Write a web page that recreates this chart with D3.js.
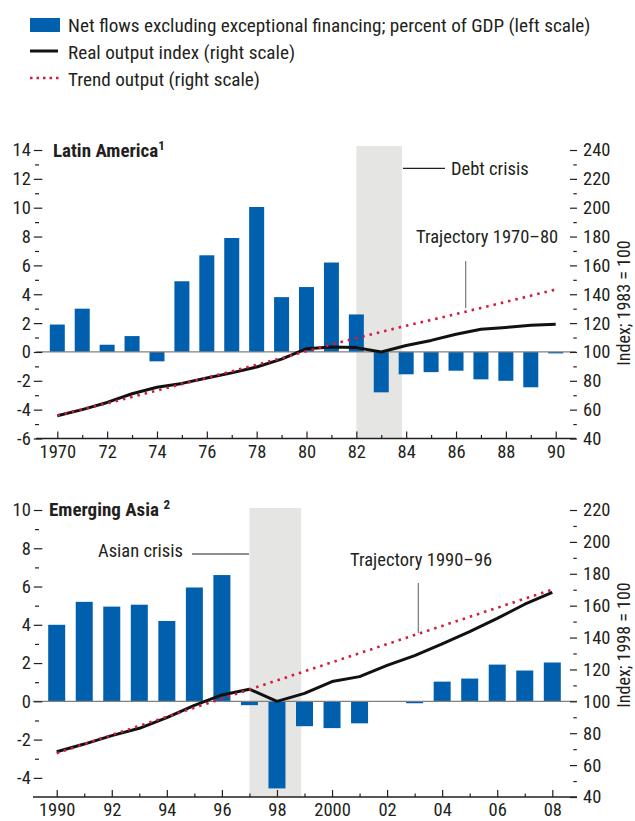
<!DOCTYPE html>
<html lang="en">
<head>
  <meta charset="UTF-8">
  <title>Net flows and output</title>
  <style>
  body { margin: 0; background: #fff; }
  svg text { font-family: "Liberation Sans Narrow", "Arial Narrow", "Roboto Condensed", "DejaVu Sans Condensed", sans-serif; fill: #231f20; }
  .tick text { font-size: 18.5px; }
  .axis .domain { display: none; }
  .axis line { stroke: #231f20; stroke-width: 1.2px; }
  </style>
</head>
<body>
<script src="https://d3js.org/d3.v7.min.js"></script>
<script>
// Latin America, 1970-90
var latYears = [1970,1971,1972,1973,1974,1975,1976,1977,1978,1979,1980,1981,1982,1983,1984,1985,1986,1987,1988,1989,1990];
var latFlows = [1.9, 3.0, 0.5, 1.1, -0.65, 4.9, 6.7, 7.9, 10.05, 3.8, 4.5, 6.2, 2.6, -2.8, -1.55, -1.4, -1.3, -1.9, -2.0, -2.45, -0.1];
var latOutput = [55.8, 60, 65, 71, 75.5, 78.2, 82, 85.5, 89.6, 95, 102.3, 103.5, 103, 100, 104.5, 108, 112.3, 115.8, 117, 118.5, 119.2];
var latTrend = [56, 60.2, 64.4, 68.8, 73.3, 77.7, 82.1, 86.6, 91.1, 95.7, 100.5, 105.1, 109.6, 113.9, 118.2, 122.2, 126.3, 130.5, 134.7, 139, 143.3];
var latXLabels = ["1970","72","74","76","78","80","82","84","86","88","90"];
var latLeftTicks = [-6,-4,-2,0,2,4,6,8,10,12,14];
var latRightTicks = [40,60,80,100,120,140,160,180,200,220,240];

// Emerging Asia, 1990-2008
var asiaYears = [1990,1991,1992,1993,1994,1995,1996,1997,1998,1999,2000,2001,2002,2003,2004,2005,2006,2007,2008];
var asiaFlows = [4.0, 5.2, 4.95, 5.05, 4.2, 5.95, 6.6, -0.2, -4.55, -1.3, -1.4, -1.15, 0, -0.1, 1.03, 1.19, 1.92, 1.61, 2.03];
var asiaOutput = [68.4, 73.2, 78.5, 83.1, 89.8, 97.5, 104, 107.6, 100, 105, 112.4, 115.5, 122.5, 128.7, 136, 143.7, 152, 160.9, 168.4];
var asiaTrend = [67.5, 73.2, 78.9, 84.6, 90.3, 96.0, 101.7, 107.4, 113.1, 118.8, 124.5, 130.2, 135.9, 141.6, 147.3, 153.0, 158.7, 164.4, 170.1];
var asiaXLabels = ["1990","92","94","96","98","2000","02","04","06","08"];
var asiaLeftTicks = [-4,-2,0,2,4,6,8,10];
var asiaRightTicks = [40,60,80,100,120,140,160,180,200,220];

var blue = "#0060ad";
var red = "#d01c40";

var width = 635, height = 821;
var svg = d3.select("body").append("svg").attr("width", width).attr("height", height);

// legend
var lg = svg.append("g");
lg.append("rect").attr("x", 30).attr("y", 18).attr("width", 30).attr("height", 14).attr("fill", blue);
lg.append("line").attr("x1", 30).attr("x2", 58).attr("y1", 51).attr("y2", 51)
  .attr("stroke", "#111").attr("stroke-width", 3);
lg.append("line").attr("x1", 30).attr("x2", 60).attr("y1", 78).attr("y2", 78)
  .attr("stroke", red).attr("stroke-width", 2.6).attr("stroke-dasharray", "2.5,4");
var legendTexts = ["Net flows excluding exceptional financing; percent of GDP (left scale)",
  "Real output index (right scale)", "Trend output (right scale)"];
lg.selectAll("text.leg").data(legendTexts).enter().append("text")
  .attr("x", 68).attr("y", function(d, i) { return 32 + i * 27; })
  .style("font-size", "19.2px").text(function(d) { return d; });

function drawPanel(p) {
  var g = svg.append("g");
  var x = d3.scaleLinear().domain(p.xDomain).range(p.xRange);
  var yL = d3.scaleLinear().domain(p.leftDomain).range([p.bottom, p.top]);
  var yR = d3.scaleLinear().domain(p.rightDomain).range([p.bottom, p.top]);

  // crisis band
  g.append("rect")
    .attr("x", x(p.band[0])).attr("width", x(p.band[1]) - x(p.band[0]))
    .attr("y", p.bandTop).attr("height", p.bottom - p.bandTop)
    .attr("fill", "#e5e5e3");

  // bars
  var data = p.years.map(function(yr, i) {
    return { year: yr, flow: p.flows[i], output: p.output[i], trend: p.trend[i] };
  });
  g.selectAll("rect.bar").data(data.filter(function(d) { return d.flow !== 0; }))
    .enter().append("rect")
    .attr("class", "bar")
    .attr("x", function(d) { return x(d.year) - p.barWidth / 2; })
    .attr("width", p.barWidth)
    .attr("y", function(d) { return yL(Math.max(0, d.flow)); })
    .attr("height", function(d) { return Math.abs(yL(d.flow) - yL(0)); })
    .attr("fill", blue);

  // zero line
  g.append("line")
    .attr("x1", p.axisX[0]).attr("x2", p.axisX[1])
    .attr("y1", yL(0)).attr("y2", yL(0))
    .attr("stroke", "#808080").attr("stroke-width", 1.2);

  // bottom axis line
  g.append("line")
    .attr("x1", p.axisX[0]).attr("x2", p.axisX[1])
    .attr("y1", p.bottom).attr("y2", p.bottom)
    .attr("stroke", "#231f20").attr("stroke-width", 1.3);

  // x axis: major ticks up with labels, minor ticks up
  var majorYears = p.years.filter(function(d, i) { return i % 2 === 0; });
  var minorYears = p.years.filter(function(d, i) { return i % 2 === 1; });
  g.append("g").attr("class", "axis")
    .attr("transform", "translate(0," + p.bottom + ")")
    .call(d3.axisBottom(x).tickValues(majorYears).tickSizeInner(-7).tickSizeOuter(0).tickPadding(6)
      .tickFormat(function(d, i) { return p.xLabels[i]; }));
  g.append("g").attr("class", "axis")
    .attr("transform", "translate(0," + p.bottom + ")")
    .call(d3.axisBottom(x).tickValues(minorYears).tickSizeInner(-3.5).tickSizeOuter(0).tickFormat(""));

  // left axis
  var leftMinor = p.leftTicks.slice(0, -1).map(function(d) { return d + 1; });
  g.append("g").attr("class", "axis")
    .attr("transform", "translate(42.3,0)")
    .call(d3.axisLeft(yL).tickValues(p.leftTicks).tickSize(8.5).tickPadding(3)
      .tickFormat(function(d) { return String(d); }));
  g.append("g").attr("class", "axis")
    .attr("transform", "translate(39,0)")
    .call(d3.axisLeft(yL).tickValues(leftMinor).tickSize(4).tickFormat(""));

  // right axis
  var rightMinor = p.rightTicks.slice(0, -1).map(function(d) { return d + 10; });
  g.append("g").attr("class", "axis")
    .attr("transform", "translate(570,0)")
    .call(d3.axisRight(yR).tickValues(p.rightTicks).tickSize(7).tickPadding(6)
      .tickFormat(function(d) { return String(d); }));
  g.append("g").attr("class", "axis")
    .attr("transform", "translate(573.3,0)")
    .call(d3.axisRight(yR).tickValues(rightMinor).tickSize(3.5).tickFormat(""));

  // right axis title
  g.append("text")
    .attr("transform", "translate(630," + p.rightTitleY + ") rotate(-90)")
    .attr("text-anchor", "middle").style("font-size", "18px")
    .text(p.rightTitle);

  // lines
  var outLine = d3.line().x(function(d) { return x(d.year); }).y(function(d) { return yR(d.output); });
  var trendLine = d3.line().x(function(d) { return x(d.year); }).y(function(d) { return yR(d.trend); });
  g.append("path").datum(data)
    .attr("fill", "none").attr("stroke", "#111").attr("stroke-width", 3)
    .attr("stroke-linejoin", "round").attr("d", outLine);
  g.append("path").datum(data)
    .attr("fill", "none").attr("stroke", red).attr("stroke-width", 2.6)
    .attr("stroke-dasharray", "2.5,5").attr("d", trendLine);

  // title
  var t = g.append("text").attr("x", p.titleX).attr("y", p.titleY)
    .style("font-size", "19px").style("font-weight", "bold");
  t.append("tspan").text(p.title);
  t.append("tspan").attr("dy", -7).style("font-size", "13px").text(p.titleNote);

  // band annotation
  g.append("line").attr("x1", p.bandNote.x1).attr("x2", p.bandNote.x2)
    .attr("y1", p.bandNote.y).attr("y2", p.bandNote.y)
    .attr("stroke", "#231f20").attr("stroke-width", 1.2);
  g.append("text").attr("x", p.bandNote.tx).attr("y", p.bandNote.ty)
    .style("font-size", "18.5px").text(p.bandNote.text);

  // trajectory annotation
  g.append("line").attr("x1", p.trajNote.x).attr("x2", p.trajNote.x)
    .attr("y1", p.trajNote.y1).attr("y2", p.trajNote.y2)
    .attr("stroke", "#777").attr("stroke-width", 1.2);
  g.append("text").attr("x", p.trajNote.tx).attr("y", p.trajNote.ty)
    .style("font-size", "18.5px").text(p.trajNote.text);
}

drawPanel({
  years: latYears, flows: latFlows, output: latOutput, trend: latTrend,
  xLabels: latXLabels, leftTicks: latLeftTicks, rightTicks: latRightTicks,
  xDomain: [1970, 1990], xRange: [57.3, 555.7],
  leftDomain: [-6, 14], rightDomain: [40, 240],
  top: 150, bottom: 438.5, axisX: [36, 576], barWidth: 15,
  band: [1982, 1983.83], bandTop: 146,
  title: "Latin America", titleNote: "1", titleX: 53, titleY: 157,
  rightTitle: "Index; 1983 = 100", rightTitleY: 303,
  bandNote: { x1: 403, x2: 445, y: 168.3, tx: 451, ty: 175, text: "Debt crisis" },
  trajNote: { x: 465.7, y1: 261, y2: 308, tx: 416, ty: 243, text: "Trajectory 1970\u201380" }
});

drawPanel({
  years: asiaYears, flows: asiaFlows, output: asiaOutput, trend: asiaTrend,
  xLabels: asiaXLabels, leftTicks: asiaLeftTicks, rightTicks: asiaRightTicks,
  xDomain: [1990, 2008], xRange: [56.7, 552.3],
  leftDomain: [-5, 10], rightDomain: [40, 220],
  top: 510, bottom: 797, axisX: [33, 577], barWidth: 17,
  band: [1997, 1998.88], bandTop: 508,
  title: "Emerging Asia ", titleNote: "2", titleX: 49, titleY: 516,
  rightTitle: "Index; 1998 = 100", rightTitleY: 645,
  bandNote: { x1: 192, x2: 249, y: 554, tx: 98, ty: 557, text: "Asian crisis" },
  trajNote: { x: 418.3, y1: 583, y2: 633, tx: 350, ty: 566, text: "Trajectory 1990\u201396" }
});
</script>
</body>
</html>
